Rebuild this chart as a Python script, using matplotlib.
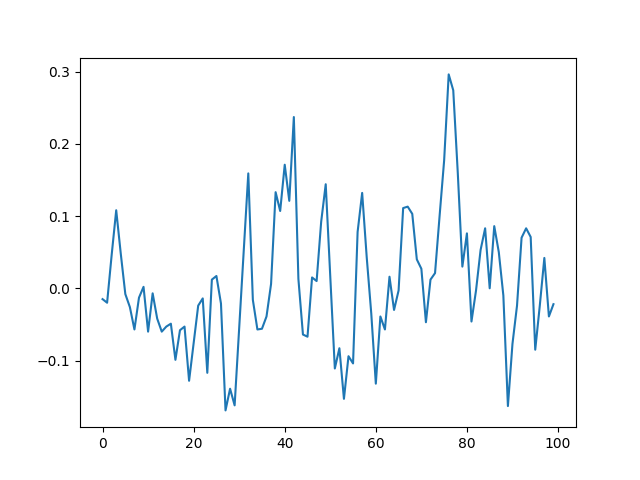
import numpy as np
import matplotlib
matplotlib.use("Agg")
import matplotlib.pyplot as plt

# values, one per index 0..99
values = [
    -0.015, -0.020, 0.046, 0.108, 0.048, -0.008, -0.026, -0.057, -0.013, 0.002,
    -0.060, -0.007, -0.042, -0.060, -0.053, -0.049, -0.099, -0.058, -0.053, -0.128,
    -0.076, -0.024, -0.014, -0.117, 0.012, 0.017, -0.021, -0.169, -0.139, -0.162,
    -0.055, 0.052, 0.159, -0.016, -0.057, -0.056, -0.039, 0.006, 0.133, 0.107,
    0.171, 0.121, 0.237, 0.013, -0.064, -0.067, 0.015, 0.010, 0.092, 0.144,
    0.016, -0.111, -0.083, -0.153, -0.094, -0.104, 0.078, 0.132, 0.043, -0.035,
    -0.132, -0.039, -0.057, 0.016, -0.030, -0.003, 0.111, 0.113, 0.103, 0.040,
    0.027, -0.047, 0.012, 0.021, 0.100, 0.177, 0.296, 0.274, 0.159, 0.030,
    0.076, -0.046, -0.003, 0.053, 0.083, 0.000, 0.086, 0.050, -0.010, -0.163,
    -0.077, -0.024, 0.070, 0.083, 0.071, -0.085, -0.024, 0.042, -0.039, -0.022,
]
x = np.arange(len(values))

fig, ax = plt.subplots(figsize=(6.4, 4.8), dpi=100)
ax.plot(x, values)
fig.savefig("out.png")
